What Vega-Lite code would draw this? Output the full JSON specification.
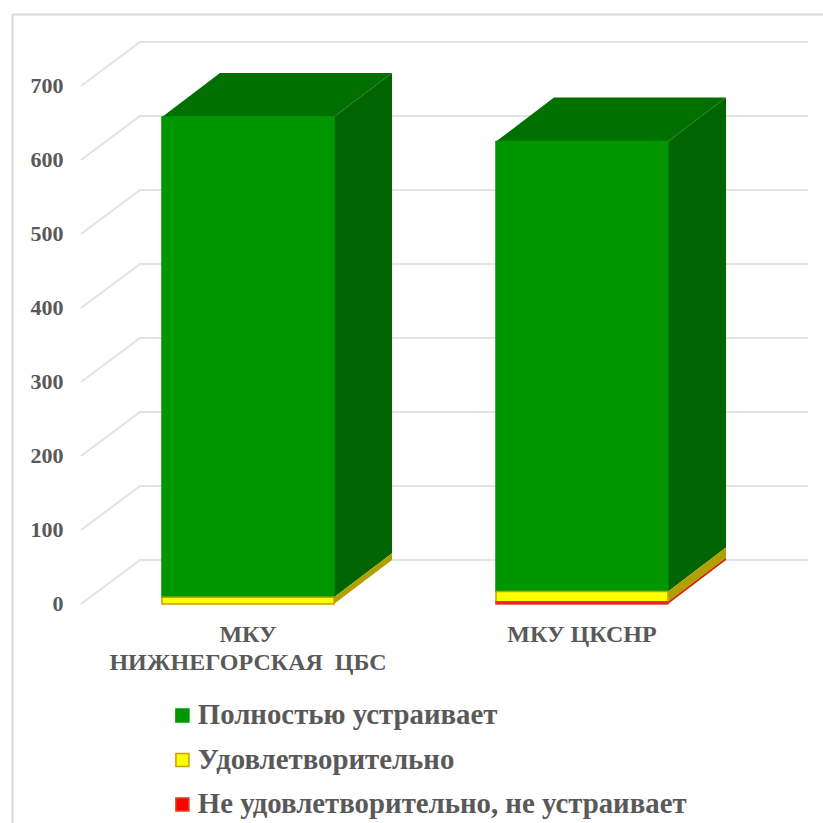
{
"$schema":"https://vega.github.io/schema/vega-lite/v6.json",
"width":811,"height":809,"autosize":{"type":"none"},
"padding":{"left":12,"top":14,"right":0,"bottom":0},
"background":"white",
"config":{"view":{"stroke":null},"text":{"lineBreak":"\n"}},
"datasets":{
"bars":[
{"company":"МКУ\nНИЖНЕГОРСКАЯ \u00a0ЦБС","idx":1,"status":"Полностью устраивает","rank":3,"value":649},
{"company":"МКУ\nНИЖНЕГОРСКАЯ \u00a0ЦБС","idx":1,"status":"Удовлетворительно","rank":2,"value":9},
{"company":"МКУ\nНИЖНЕГОРСКАЯ \u00a0ЦБС","idx":1,"status":"Не удовлетворительно, не устраивает","rank":1,"value":0},
{"company":"МКУ ЦКСНР","idx":2,"status":"Полностью устраивает","rank":3,"value":608},
{"company":"МКУ ЦКСНР","idx":2,"status":"Удовлетворительно","rank":2,"value":14},
{"company":"МКУ ЦКСНР","idx":2,"status":"Не удовлетворительно, не устраивает","rank":1,"value":3}
],
"ticks":[{"tick":0},{"tick":100},{"tick":200},{"tick":300},{"tick":400},{"tick":500},{"tick":600},{"tick":700}]
},
"layer":[
{
"data":{"name":"ticks"},
"transform":[
{"calculate":"[0.5,0.6766,2.6766]","as":"px"},
{"calculate":"[0,59.46,59.46]","as":"py"},
{"flatten":["px","py"]},
{"calculate":"datum.tick+datum.py","as":"gy"}
],
"mark":{"type":"line","color":"#e2e2e2","strokeWidth":2,"interpolate":"linear"},
"encoding":{
"x":{"field":"px","type":"quantitative","scale":{"domain":[0.2934,2.7216],"nice":false,"zero":false},
"axis":{"orient":"top","title":null,"labels":false,"ticks":false,"grid":false,"domain":true,"domainColor":"#d9d9d9","domainWidth":2}},
"y":{"field":"gy","type":"quantitative","scale":{"domain":[-295.9,797.3],"nice":false,"zero":false},
"axis":{"title":null,"values":[0,100,200,300,400,500,600,700],"ticks":false,"grid":false,"domain":true,"domainColor":"#d9d9d9","domainWidth":2,"labelPadding":-51,"labelAlign":"right","labelOffset":-1,"labelFont":"Liberation Serif","labelFontWeight":"bold","labelFontSize":22,"labelColor":"#595959"}},
"detail":{"field":"tick"}
}
},
{
"data":{"name":"bars"},
"transform":[
{"stack":"value","groupby":["idx"],"sort":[{"field":"rank"}],"as":["v0","v1"]},
{"calculate":"[0,1]","as":"d"},
{"flatten":["d"]},
{"calculate":"datum.idx+0.2575+datum.d*0.1737","as":"sx"},
{"calculate":"datum.v0+datum.d*59.46","as":"sy0"},
{"calculate":"datum.v1+datum.d*59.46","as":"sy1"}
],
"mark":{"type":"area","orient":"vertical"},
"encoding":{
"x":{"field":"sx","type":"quantitative"},
"y":{"field":"sy1","type":"quantitative","stack":null},
"y2":{"field":"sy0"},
"detail":{"field":"idx"},
"color":{"field":"status","type":"nominal","legend":null,"scale":{"domain":["Полностью устраивает","Удовлетворительно","Не удовлетворительно, не устраивает"],"range":["#006400","#b0a000","#d02000"]}}
}
},
{
"data":{"name":"bars"},
"transform":[
{"stack":"value","groupby":["idx"],"sort":[{"field":"rank"}],"as":["v0","v1"]},
{"filter":"datum.rank==3"},
{"calculate":"[0,1]","as":"d"},
{"flatten":["d"]},
{"calculate":"datum.idx-0.2575+datum.d*0.1737","as":"tx0"},
{"calculate":"datum.idx+0.2575+datum.d*0.1737","as":"tx1"},
{"calculate":"datum.v1+datum.d*59.46","as":"ty"}
],
"mark":{"type":"area","orient":"horizontal","color":"#007000"},
"encoding":{
"y":{"field":"ty","type":"quantitative"},
"x":{"field":"tx0","type":"quantitative","stack":null},
"x2":{"field":"tx1"},
"detail":{"field":"idx"}
}
},
{
"data":{"name":"bars"},
"transform":[
{"stack":"value","groupby":["idx"],"sort":[{"field":"rank"}],"as":["v0","v1"]},
{"filter":"datum.value>0"},
{"calculate":"datum.idx-0.2575","as":"bx0"},
{"calculate":"datum.idx+0.2575","as":"bx1"}
],
"mark":{"type":"rect","strokeWidth":1.5},
"encoding":{
"x":{"field":"bx0","type":"quantitative"},
"x2":{"field":"bx1"},
"y":{"field":"v1","type":"quantitative"},
"y2":{"field":"v0"},
"color":{"field":"status","type":"nominal","scale":{"domain":["Полностью устраивает","Удовлетворительно","Не удовлетворительно, не устраивает"],"range":["#009600","#ffff00","#ff0000"]},
"legend":{"orient":"none","legendX":156,"legendY":687,"title":null,"symbolType":"square","symbolSize":169,"rowPadding":14.5,"labelFont":"Liberation Serif","labelFontWeight":"bold","labelFontSize":28.8,"labelColor":"#595959","labelOffset":1,"labelLimit":700,
"encode":{"symbols":{"update":{"stroke":{"signal":"datum.value=='Удовлетворительно'?'#c8a000':datum.value=='Не удовлетворительно, не устраивает'?'#e04020':'#30a030'"},"strokeWidth":{"value":1.5}}}}}},
"stroke":{"field":"status","type":"nominal","legend":null,"scale":{"domain":["Полностью устраивает","Удовлетворительно","Не удовлетворительно, не устраивает"],"range":["#009600","#c8a000","#e04020"]}}
}
},
{
"data":{"name":"bars"},
"transform":[{"filter":"datum.rank==3"}],
"mark":{"type":"text","font":"Liberation Serif","fontWeight":"bold","fontSize":24,"color":"#595959","baseline":"top","align":"center","lineHeight":28},
"encoding":{
"x":{"field":"idx","type":"quantitative"},
"y":{"datum":-25},
"text":{"field":"company"}
}
}
],
"resolve":{"scale":{"color":"independent","stroke":"independent"}}
}
